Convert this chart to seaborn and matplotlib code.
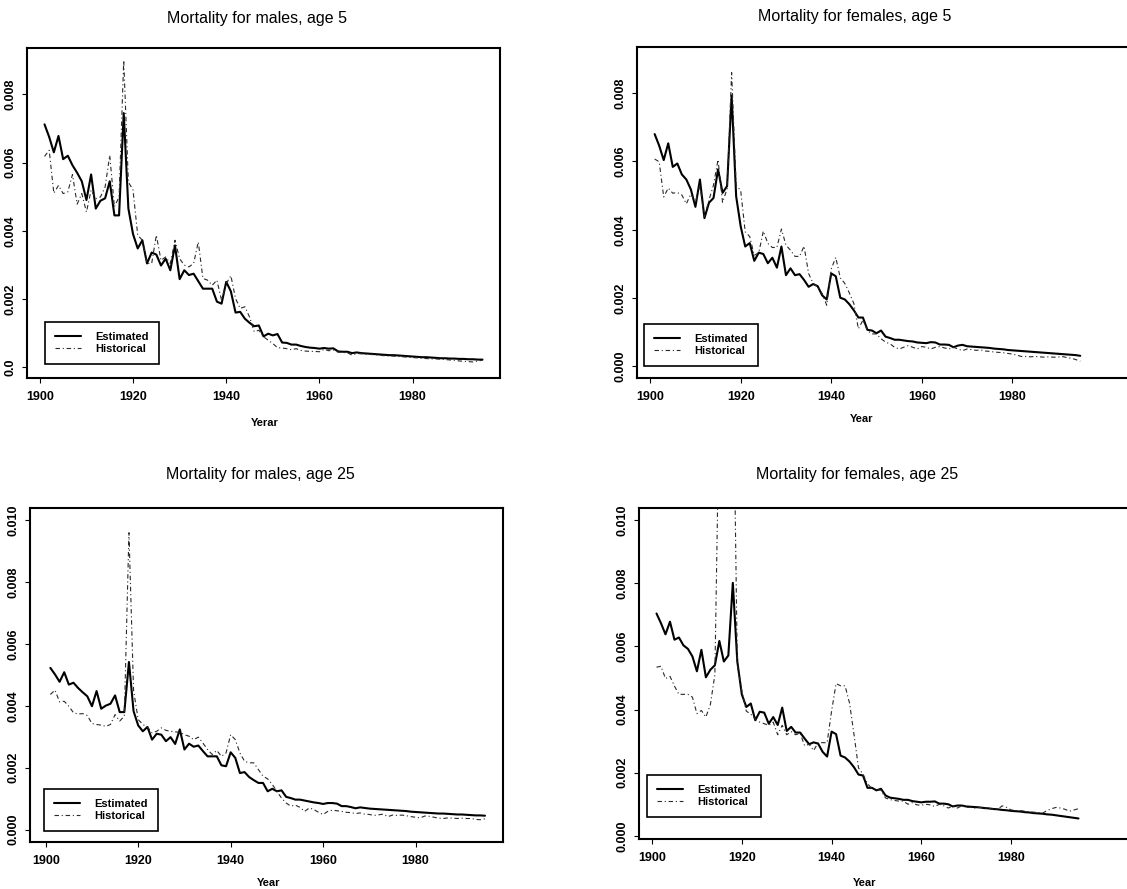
import matplotlib
matplotlib.use("Agg")
import matplotlib.pyplot as plt
import seaborn as sns
import pandas as pd

# years 1901..1995
years = list(range(1901, 1996))

# death rates per 1000
est_m5 = [7.12, 6.75, 6.30, 6.78, 6.10, 6.20, 5.92, 5.70, 5.45, 4.90,
          5.65, 4.65, 4.88, 4.95, 5.45, 4.45, 4.45, 7.45, 4.65, 3.90,
          3.48, 3.72, 3.04, 3.36, 3.30, 2.98, 3.18, 2.84, 3.57, 2.58,
          2.84, 2.70, 2.74, 2.52, 2.30, 2.30, 2.30, 1.92, 1.86, 2.50,
          2.22, 1.60, 1.62, 1.42, 1.30, 1.20, 1.22, 0.90, 0.98, 0.93,
          0.97, 0.72, 0.71, 0.66, 0.66, 0.62, 0.59, 0.57, 0.56, 0.54,
          0.56, 0.54, 0.55, 0.46, 0.45, 0.45, 0.41, 0.43, 0.41, 0.40,
          0.39, 0.38, 0.37, 0.36, 0.35, 0.35, 0.34, 0.33, 0.32, 0.31,
          0.30, 0.29, 0.29, 0.28, 0.27, 0.26, 0.26, 0.25, 0.25, 0.24,
          0.24, 0.23, 0.23, 0.22, 0.22]
his_m5 = [6.18, 6.36, 5.10, 5.33, 5.09, 5.14, 5.65, 4.78, 5.09, 4.55,
          5.19, 4.94, 4.99, 5.28, 6.21, 4.70, 4.99, 9.00, 5.43, 5.19,
          3.87, 3.72, 3.04, 3.04, 3.87, 3.13, 3.23, 3.04, 3.72, 3.18,
          2.99, 2.94, 3.04, 3.67, 2.60, 2.55, 2.40, 2.55, 1.96, 2.45,
          2.68, 2.01, 1.72, 1.77, 1.47, 1.04, 1.08, 0.89, 0.79, 0.69,
          0.57, 0.56, 0.54, 0.51, 0.54, 0.49, 0.47, 0.46, 0.46, 0.45,
          0.52, 0.48, 0.50, 0.44, 0.43, 0.42, 0.35, 0.40, 0.39, 0.38,
          0.37, 0.36, 0.35, 0.33, 0.33, 0.32, 0.31, 0.30, 0.29, 0.28,
          0.27, 0.26, 0.25, 0.24, 0.24, 0.23, 0.22, 0.21, 0.20, 0.18,
          0.17, 0.16, 0.15, 0.18, 0.20]

est_f5 = [6.80, 6.46, 6.04, 6.53, 5.84, 5.94, 5.62, 5.47, 5.18, 4.67,
          5.47, 4.34, 4.79, 4.93, 5.77, 5.08, 5.28, 7.93, 4.98, 4.10,
          3.51, 3.61, 3.09, 3.33, 3.29, 3.02, 3.18, 2.89, 3.51, 2.67,
          2.87, 2.67, 2.70, 2.53, 2.33, 2.41, 2.35, 2.08, 1.96, 2.72,
          2.64, 2.01, 1.96, 1.82, 1.64, 1.43, 1.43, 1.07, 1.05, 0.97,
          1.05, 0.87, 0.83, 0.78, 0.78, 0.76, 0.74, 0.73, 0.70, 0.69,
          0.68, 0.71, 0.70, 0.64, 0.64, 0.63, 0.56, 0.61, 0.63, 0.59,
          0.58, 0.57, 0.56, 0.55, 0.54, 0.52, 0.51, 0.50, 0.48, 0.47,
          0.46, 0.45, 0.44, 0.43, 0.42, 0.41, 0.40, 0.39, 0.38, 0.37,
          0.36, 0.35, 0.34, 0.33, 0.31]
his_f5 = [6.07, 5.99, 4.96, 5.22, 5.07, 5.09, 5.02, 4.76, 5.05, 4.80,
          5.30, 4.38, 4.87, 5.31, 6.05, 4.80, 5.20, 8.60, 5.30, 5.15,
          3.94, 3.80, 3.25, 3.33, 3.96, 3.60, 3.48, 3.48, 4.02, 3.55,
          3.40, 3.22, 3.22, 3.52, 2.72, 2.43, 2.33, 2.13, 1.79, 2.85,
          3.19, 2.59, 2.43, 2.15, 1.84, 1.10, 1.35, 1.05, 0.95, 0.95,
          0.81, 0.71, 0.66, 0.56, 0.51, 0.56, 0.61, 0.56, 0.51, 0.58,
          0.56, 0.51, 0.56, 0.58, 0.54, 0.51, 0.56, 0.51, 0.46, 0.51,
          0.49, 0.47, 0.48, 0.45, 0.44, 0.42, 0.41, 0.40, 0.38, 0.36,
          0.33, 0.29, 0.29, 0.28, 0.29, 0.28, 0.27, 0.28, 0.27, 0.27,
          0.29, 0.26, 0.24, 0.20, 0.15]

est_m25 = [5.23, 5.02, 4.78, 5.09, 4.69, 4.75, 4.58, 4.44, 4.31, 3.99,
           4.48, 3.91, 4.01, 4.07, 4.34, 3.80, 3.80, 5.42, 3.83, 3.37,
           3.18, 3.32, 2.91, 3.10, 3.07, 2.86, 2.99, 2.77, 3.24, 2.59,
           2.78, 2.68, 2.72, 2.54, 2.37, 2.37, 2.37, 2.08, 2.05, 2.50,
           2.32, 1.83, 1.86, 1.70, 1.60, 1.51, 1.51, 1.24, 1.32, 1.24,
           1.27, 1.06, 1.02, 0.97, 0.97, 0.94, 0.91, 0.88, 0.86, 0.83,
           0.86, 0.86, 0.84, 0.76, 0.76, 0.73, 0.69, 0.72, 0.70, 0.68,
           0.67, 0.66, 0.65, 0.64, 0.63, 0.62, 0.61, 0.60, 0.58, 0.57,
           0.56, 0.55, 0.54, 0.53, 0.52, 0.52, 0.51, 0.50, 0.49, 0.49,
           0.48, 0.47, 0.46, 0.46, 0.45]
his_m25 = [4.37, 4.51, 4.13, 4.15, 3.99, 3.78, 3.74, 3.75, 3.69, 3.43,
           3.40, 3.38, 3.34, 3.40, 3.72, 3.51, 3.67, 9.60, 4.50, 3.56,
           3.40, 3.32, 3.13, 3.18, 3.29, 3.21, 3.18, 3.16, 3.15, 3.07,
           3.02, 2.91, 2.99, 2.80, 2.59, 2.43, 2.56, 2.37, 2.48, 3.07,
           2.91, 2.48, 2.21, 2.16, 2.16, 1.94, 1.73, 1.64, 1.46, 1.24,
           1.02, 0.86, 0.76, 0.79, 0.72, 0.59, 0.70, 0.65, 0.56, 0.49,
           0.59, 0.63, 0.61, 0.59, 0.56, 0.55, 0.52, 0.54, 0.50, 0.49,
           0.46, 0.48, 0.50, 0.42, 0.47, 0.46, 0.47, 0.45, 0.42, 0.40,
           0.38, 0.44, 0.43, 0.40, 0.37, 0.36, 0.38, 0.37, 0.36, 0.37,
           0.36, 0.36, 0.33, 0.32, 0.35]

est_f25 = [7.04, 6.73, 6.38, 6.78, 6.21, 6.28, 6.03, 5.92, 5.68, 5.21,
           5.89, 5.02, 5.26, 5.40, 6.17, 5.52, 5.71, 8.01, 5.52, 4.48,
           4.08, 4.19, 3.66, 3.93, 3.90, 3.55, 3.76, 3.51, 4.06, 3.32,
           3.45, 3.27, 3.27, 3.08, 2.90, 2.96, 2.92, 2.66, 2.51, 3.30,
           3.22, 2.54, 2.48, 2.35, 2.17, 1.94, 1.91, 1.52, 1.52, 1.44,
           1.49, 1.28, 1.21, 1.19, 1.17, 1.14, 1.14, 1.10, 1.08, 1.06,
           1.08, 1.08, 1.09, 1.02, 1.02, 1.00, 0.93, 0.96, 0.96, 0.93,
           0.92, 0.91, 0.90, 0.88, 0.87, 0.85, 0.84, 0.82, 0.81, 0.79,
           0.78, 0.77, 0.75, 0.74, 0.72, 0.71, 0.70, 0.68, 0.67, 0.65,
           0.63, 0.61, 0.59, 0.57, 0.55]
his_f25 = [5.34, 5.37, 4.98, 5.05, 4.74, 4.48, 4.48, 4.48, 4.39, 3.87,
           3.97, 3.76, 4.16, 5.10, 13.90, 14.20, 15.00, 15.80, 5.40, 4.60,
           3.95, 3.85, 3.70, 3.60, 3.55, 3.50, 3.60, 3.20, 3.50, 3.20,
           3.30, 3.20, 3.25, 2.85, 2.90, 2.70, 2.95, 2.95, 2.95, 3.95,
           4.82, 4.75, 4.75, 4.20, 3.20, 2.15, 1.95, 1.65, 1.50, 1.45,
           1.45, 1.20, 1.15, 1.12, 1.10, 1.10, 1.00, 1.05, 0.98, 0.97,
           1.00, 0.98, 0.93, 1.00, 0.95, 0.88, 0.95, 0.88, 0.95, 0.90,
           0.90, 0.88, 0.90, 0.88, 0.86, 0.85, 0.84, 0.95, 0.90, 0.82,
           0.80, 0.80, 0.78, 0.76, 0.75, 0.74, 0.72, 0.80, 0.86, 0.90,
           0.88, 0.84, 0.78, 0.82, 0.86]

year_ticks = [1900, 1920, 1940, 1960, 1980]
rate_ticks_age5 = [0.0, 0.002, 0.004, 0.006, 0.008]
rate_ticks_age25 = [0.0, 0.002, 0.004, 0.006, 0.008, 0.010]
rate_labels_m5 = ["0.0", "0.002", "0.004", "0.006", "0.008"]
rate_labels_f5 = ["0.000", "0.002", "0.004", "0.006", "0.008"]
rate_labels_age25 = ["0.000", "0.002", "0.004", "0.006", "0.008", "0.010"]

SERIES = ["Estimated", "Historical"]

FIG_W, FIG_H = 1127, 889


def _frac_box(left, top, right, bottom):
    return [left / FIG_W, 1 - bottom / FIG_H,
            (right - left) / FIG_W, (bottom - top) / FIG_H]


PANELS = [
    dict(est=est_m5, his=his_m5, title="Mortality for males, age 5", xlabel="Yerar",
         box=(27, 48, 500, 378), xlim=(1897.24, 1998.76), ylim=(-0.00032, 0.00936),
         yticks=rate_ticks_age5, ylabels=rate_labels_m5,
         title_px=(257, 19), xlabel_px=(265, 423), legend_px=(45, 322)),
    dict(est=est_f5, his=his_f5, title="Mortality for females, age 5", xlabel="Year",
         box=(637, 47, 1140, 378), xlim=(1897.1, 2008.2), ylim=(-0.00034, 0.00935),
         yticks=rate_ticks_age5, ylabels=rate_labels_f5,
         title_px=(855, 16), xlabel_px=(862, 419), legend_px=(644, 324)),
    dict(est=est_m25, his=his_m25, title="Mortality for males, age 25", xlabel="Year",
         box=(30, 508, 503, 842), xlim=(1896.6, 1998.9), ylim=(-0.0004, 0.0104),
         yticks=rate_ticks_age25, ylabels=rate_labels_age25,
         title_px=(260, 475), xlabel_px=(269, 883), legend_px=(44, 789)),
    dict(est=est_f25, his=his_f25, title="Mortality for females, age 25", xlabel="Year",
         box=(639, 508, 1140, 839), xlim=(1897.1, 2008.7), ylim=(-0.0001, 0.01038),
         yticks=rate_ticks_age25, ylabels=rate_labels_age25,
         title_px=(857, 475), xlabel_px=(865, 883), legend_px=(647, 775)),
]


def draw_panel(fig, spec):
    left, top, right, bottom = spec["box"]
    ax = fig.add_axes(_frac_box(left, top, right, bottom))
    w, h = right - left, bottom - top

    est, his = spec["est"], spec["his"]
    df = pd.DataFrame({
        "year": years + years,
        "rate": [v / 1000 for v in est + his],
        "series": ["Estimated"] * len(est) + ["Historical"] * len(his),
    })
    sns.lineplot(
        data=df, x="year", y="rate",
        hue="series", style="series", size="series",
        hue_order=SERIES, style_order=SERIES, size_order=SERIES,
        palette={"Estimated": "black", "Historical": "#2a2a2a"},
        dashes={"Estimated": "", "Historical": (4, 2.5, 1, 2.5)},
        sizes={"Estimated": 1.5, "Historical": 0.8},
        errorbar=None, legend="full", ax=ax,
    )

    ax.set_xlim(*spec["xlim"])
    ax.set_ylim(*spec["ylim"])
    ax.set_xticks(year_ticks)
    ax.set_xticklabels([str(y) for y in year_ticks])
    ax.set_yticks(spec["yticks"])
    ax.set_yticklabels(spec["ylabels"], rotation=90, va="center")
    ax.tick_params(direction="out", length=3.5, width=0.8, labelsize=9, colors="black")
    ax.tick_params(axis="x", pad=6)
    ax.tick_params(axis="y", pad=4)
    for lab in ax.get_xticklabels() + ax.get_yticklabels():
        lab.set_fontweight("bold")
    for sp in ax.spines.values():
        sp.set_linewidth(1.5)
        sp.set_color("black")

    tx, ty = spec["title_px"]
    ax.set_title(spec["title"], fontsize=11.5, x=(tx - left) / w, y=(bottom - ty) / h,
                 va="center", pad=0, color="black")
    ax.set_ylabel("")
    ax.set_xlabel(spec["xlabel"], fontsize=8, fontweight="bold", color="black")
    lx, ly = spec["xlabel_px"]
    ax.xaxis.set_label_coords((lx - left) / w, (bottom - ly) / h)
    ax.xaxis.label.set_va("center")

    old = ax.get_legend()
    handles = old.legend_handles
    labels = [t.get_text() for t in old.get_texts()]
    gx, gy = spec["legend_px"]
    leg = ax.legend(
        handles, labels, loc="upper left",
        bbox_to_anchor=(gx / FIG_W, 1 - gy / FIG_H), bbox_transform=fig.transFigure,
        borderaxespad=0, fancybox=False, framealpha=1, edgecolor="black",
        prop={"size": 8, "weight": "bold"}, labelcolor="black",
        handlelength=2.3, handletextpad=1.3, borderpad=0.9, labelspacing=0.15,
    )
    leg.get_frame().set_linewidth(1.2)
    return ax


sns.set_style("ticks")
plt.rcParams["font.family"] = ["Liberation Sans", "DejaVu Sans"]
plt.rcParams["text.color"] = "black"

fig = plt.figure(figsize=(FIG_W / 100, FIG_H / 100), dpi=100)
for spec in PANELS:
    draw_panel(fig, spec)

fig.savefig("out.png", dpi=100, facecolor="white")
plt.close(fig)
